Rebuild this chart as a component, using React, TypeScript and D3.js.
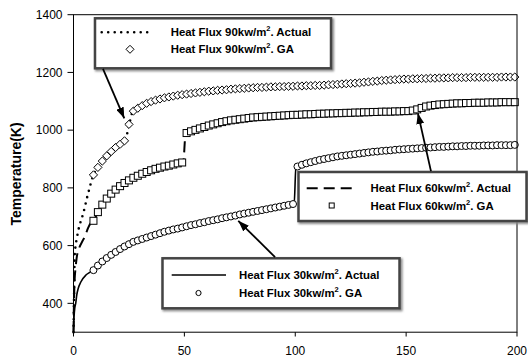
import * as d3 from 'd3';

// sample times of the GA points (s)
const gaTime = [
  9, 11, 13, 15, 17, 19, 21, 23, 25, 27,
  29, 31, 33, 35, 37, 39, 41, 43, 45, 47,
  49, 51, 53, 55, 57, 59, 61, 63, 65, 67,
  69, 71, 73, 75, 77, 79, 81, 83, 85, 87,
  89, 91, 93, 95, 97, 99, 101, 103, 105, 107,
  109, 111, 113, 115, 117, 119, 121, 123, 125, 127,
  129, 131, 133, 135, 137, 139, 141, 143, 145, 147,
  149, 151, 153, 155, 157, 159, 161, 163, 165, 167,
  169, 171, 173, 175, 177, 179, 181, 183, 185, 187,
  189, 191, 193, 195, 197, 199,
];

const ga90 = [
  845, 871, 893, 911, 926, 940, 951, 963, 1020, 1066,
  1076, 1085, 1093, 1099, 1104, 1108, 1112, 1115, 1118, 1121,
  1123, 1125, 1127, 1129, 1131, 1133, 1135, 1136, 1138, 1139,
  1140, 1142, 1143, 1144, 1145, 1146, 1147, 1148, 1148, 1149,
  1150, 1150, 1151, 1151, 1152, 1152, 1153, 1153, 1154, 1154,
  1155, 1155, 1156, 1157, 1158, 1159, 1160, 1161, 1162, 1163,
  1164, 1166, 1167, 1169, 1170, 1172, 1173, 1174, 1175, 1176,
  1177, 1177, 1178, 1178, 1179, 1179, 1180, 1180, 1181, 1181,
  1181, 1182, 1182, 1182, 1182, 1183, 1183, 1183, 1183, 1183,
  1183, 1183, 1184, 1184, 1184, 1184,
];

const ga60 = [
  686, 716, 742, 763, 780, 794, 806, 817, 826, 835,
  842, 849, 855, 861, 866, 870, 874, 877, 881, 885,
  888, 990, 996, 1001, 1006, 1011, 1016, 1020, 1024, 1028,
  1031, 1034, 1036, 1038, 1040, 1042, 1044, 1045, 1046, 1047,
  1048, 1049, 1050, 1051, 1052, 1053, 1053, 1054, 1055, 1055,
  1056, 1057, 1057, 1058, 1058, 1059, 1059, 1060, 1060, 1061,
  1061, 1062, 1062, 1063, 1063, 1064, 1064, 1064, 1065, 1065,
  1066, 1066, 1068, 1072, 1077, 1082, 1085, 1087, 1089, 1090,
  1091, 1092, 1093, 1093, 1094, 1094, 1095, 1095, 1095, 1096,
  1096, 1096, 1097, 1097, 1097, 1097,
];

const ga30 = [
  515, 531, 545, 557, 568, 578, 588, 597, 605, 613,
  618, 623, 628, 633, 638, 643, 648, 652, 656, 659,
  663, 667, 671, 674, 678, 681, 685, 688, 691, 695,
  698, 701, 704, 708, 711, 714, 717, 720, 723, 726,
  729, 732, 735, 738, 741, 744, 874, 880, 885, 889,
  893, 897, 900, 903, 906, 909, 911, 913, 915, 917,
  919, 921, 923, 925, 926, 928, 929, 930, 932, 933,
  934, 935, 936, 937, 938, 939, 940, 941, 942, 942,
  943, 944, 944, 945, 945, 946, 946, 946, 947, 947,
  947, 948, 948, 948, 948, 949,
];

// measured (actual) curves, [time, temperature]
const actual90: [number, number][] = [
  [0, 300], [0.3, 450], [0.5, 560], [0.8, 590], [1.5, 625], [2.2, 654], [3.3, 685],
  [4.4, 712], [5.3, 740], [6.2, 769], [7.2, 798], [8.2, 827], [9, 845], [11, 871],
  [13, 893], [15, 911], [17, 926], [19, 940], [21, 951], [23, 963], [24.4, 994],
  [25.2, 1020], [26, 1050], [27, 1066], [30, 1081], [35, 1099], [40, 1110], [50, 1124],
  [60, 1134], [80, 1146], [100, 1153], [115, 1157], [130, 1165], [145, 1175],
  [160, 1180], [180, 1183], [200, 1184],
];

const actual60: [number, number][] = [
  [0, 300], [0.2, 400], [0.5, 480], [0.9, 520], [1.4, 556], [2.5, 590], [4, 615],
  [5.2, 632], [6.5, 660], [8, 680], [9, 686], [11, 716], [13, 742], [15, 763],
  [19, 794], [25, 826], [31, 849], [37, 866], [43, 877], [49.5, 889], [50.5, 985],
  [51, 990], [55, 1001], [61, 1016], [71, 1034], [85, 1046], [100, 1053], [120, 1059],
  [140, 1064], [152, 1067], [156, 1074], [160, 1083], [170, 1091], [185, 1095],
  [200, 1097],
];

const actual30: [number, number][] = [
  [0, 300], [0.3, 360], [0.6, 385], [1, 400], [1.5, 430], [2.1, 451], [3.3, 474],
  [5.6, 498], [7.5, 508], [9, 515], [13, 545], [19, 578], [27, 613], [41, 648],
  [57, 678], [73, 704], [85, 723], [99.5, 745], [100.3, 872], [101, 874], [107, 889],
  [115, 903], [125, 915], [140, 929], [160, 940], [180, 946], [200, 949],
];

const xTicks = [0, 50, 100, 150, 200];
const yTicks = [400, 600, 800, 1000, 1200, 1400];

// arrows from each legend to its curves, [time, temperature]
const arrows: { from: [number, number]; to: [number, number] }[] = [
  { from: [13.3, 1212], to: [22.9, 1041] },
  { from: [161.2, 858], to: [155.3, 1059] },
  { from: [90.9, 560], to: [74.3, 686] },
];

const W = 528;
const H = 358;
const font = '"Liberation Sans", Arial, sans-serif';

const x = d3.scaleLinear().domain([0, 200]).range([73.5, 517]);
const y = d3.scaleLinear().domain([300, 1400]).range([332.2, 14.7]);

const line = d3
  .line<[number, number]>()
  .x((d) => x(d[0]))
  .y((d) => y(d[1]))
  .curve(d3.curveMonotoneX);

type Shape = 'diamond' | 'square' | 'circle';

function Marker({ shape, cx, cy, s }: { shape: Shape; cx: number; cy: number; s: number }) {
  const common = { fill: '#fff', stroke: '#000', strokeWidth: 1 };
  if (shape === 'diamond') {
    return <path d={`M${cx},${cy - s}L${cx + s},${cy}L${cx},${cy + s}L${cx - s},${cy}Z`} {...common} />;
  }
  if (shape === 'square') {
    return <rect x={cx - s} y={cy - s} width={2 * s} height={2 * s} {...common} />;
  }
  return <circle cx={cx} cy={cy} r={s} {...common} />;
}

const lineStyles = {
  dotted: { strokeWidth: 2.6, strokeDasharray: '0 6.5', strokeLinecap: 'round' as const },
  dashed: { strokeWidth: 2, strokeDasharray: '11 6' },
  solid: { strokeWidth: 1.6 },
};

const series = [
  { flux: '90', actual: actual90, ga: ga90, shape: 'diamond' as Shape, style: lineStyles.dotted, size: 4.1 },
  { flux: '60', actual: actual60, ga: ga60, shape: 'square' as Shape, style: lineStyles.dashed, size: 3.5 },
  { flux: '30', actual: actual30, ga: ga30, shape: 'circle' as Shape, style: lineStyles.solid, size: 3.5 },
];

// legend boxes (pixels)
const legendBoxes = [
  { x: 95, y: 18.3, w: 236, h: 50, row1: 32.3, row2: 49.3, lx1: 101.7, lx2: 153.3, mx: 130, tx: 170.7, ms: 4 },
  { x: 298.5, y: 172, w: 228, h: 49, row1: 188.3, row2: 205.5, lx1: 306.7, lx2: 352.7, mx: 331.7, tx: 370.5, ms: 2.5 },
  { x: 162.5, y: 258.3, w: 237, h: 50, row1: 275, row2: 293, lx1: 171.7, lx2: 226, mx: 198.5, tx: 239, ms: 2.6 },
];

function LegendLabel({ tx, ty, flux, kind }: { tx: number; ty: number; flux: string; kind: string }) {
  return (
    <text x={tx} y={ty + 4.1} fontFamily={font} fontWeight="bold" fontSize={11.4} fill="#000">
      {`Heat Flux ${flux}kw/m`}
      <tspan fontSize={7.5} dy={-5}>2</tspan>
      <tspan dy={5}>{`. ${kind}`}</tspan>
    </text>
  );
}

export default function App() {
  return (
    <svg
      width={W}
      height={H}
      viewBox={`0 0 ${W} ${H}`}
      style={{ position: 'absolute', left: 0, top: 0, background: '#fff' }}
    >
      <defs>
        <marker id="arrowhead" markerUnits="userSpaceOnUse" markerWidth={12} markerHeight={8} refX={11} refY={4} orient="auto">
          <path d="M0,0L11,4L0,8Z" fill="#000" />
        </marker>
        <filter id="shadow" x="-10%" y="-20%" width="120%" height="150%">
          <feGaussianBlur stdDeviation={1} />
        </filter>
      </defs>
      <rect width={W} height={H} fill="#fff" />

      {/* measured curves */}
      {series.map((s) => (
        <path key={`a${s.flux}`} d={line(s.actual) ?? ''} fill="none" stroke="#000" {...s.style} />
      ))}

      {/* GA points */}
      {series.map((s) => (
        <g key={`g${s.flux}`}>
          {s.ga.map((v, i) => (
            <Marker key={i} shape={s.shape} cx={x(gaTime[i])} cy={y(v)} s={s.size} />
          ))}
        </g>
      ))}

      {/* frame */}
      <rect x={73.5} y={14.7} width={517 - 73.5} height={332.2 - 14.7} fill="none" stroke="#000" strokeWidth={1} />

      {/* y axis */}
      {yTicks.map((t) => (
        <g key={t}>
          <line x1={67.5} x2={73.5} y1={y(t)} y2={y(t)} stroke="#000" />
          <text x={62.5} y={y(t) + 4.3} textAnchor="end" fontFamily={font} fontSize={12} fill="#000">
            {t}
          </text>
        </g>
      ))}
      {/* x axis */}
      {xTicks.map((t) => (
        <g key={t}>
          <line x1={x(t)} x2={x(t)} y1={332.2} y2={336.5} stroke="#000" />
          <text x={x(t)} y={355} textAnchor="middle" fontFamily={font} fontSize={12} fill="#000">
            {t}
          </text>
        </g>
      ))}
      <text
        transform="translate(20.5,174) rotate(-90)"
        textAnchor="middle"
        fontFamily={font}
        fontWeight="bold"
        fontSize={14}
        fill="#000"
      >
        Temperature(K)
      </text>

      {/* legends */}
      {legendBoxes.map((b, i) => {
        const s = series[i];
        return (
          <g key={i}>
            <rect x={b.x + 1.5} y={b.y + 1.5} width={b.w} height={b.h} fill="none" stroke="#888" strokeWidth={3} filter="url(#shadow)" />
            <rect x={b.x} y={b.y} width={b.w} height={b.h} fill="#fff" stroke="#444" strokeWidth={2.5} />
            <line x1={b.lx1} x2={b.lx2} y1={b.row1} y2={b.row1} stroke="#000" {...s.style} />
            <Marker shape={s.shape} cx={b.mx} cy={b.row2} s={b.ms} />
            <LegendLabel tx={b.tx} ty={b.row1} flux={s.flux} kind="Actual" />
            <LegendLabel tx={b.tx} ty={b.row2} flux={s.flux} kind="GA" />
          </g>
        );
      })}

      {/* arrows */}
      {arrows.map((a, i) => (
        <line
          key={i}
          x1={x(a.from[0])}
          y1={y(a.from[1])}
          x2={x(a.to[0])}
          y2={y(a.to[1])}
          stroke="#000"
          strokeWidth={1.8}
          markerEnd="url(#arrowhead)"
        />
      ))}
    </svg>
  );
}
